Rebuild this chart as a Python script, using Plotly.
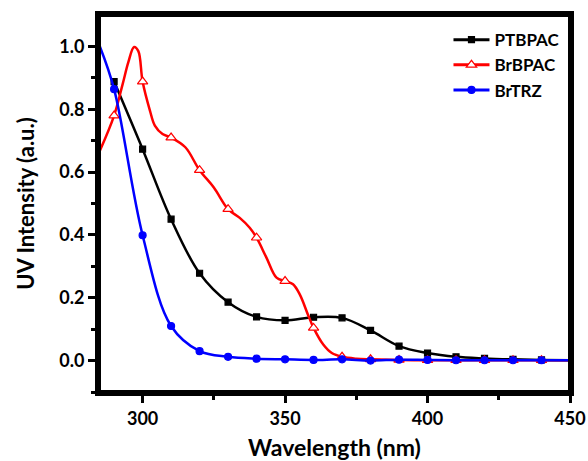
import plotly.graph_objects as go

# PTBPAC (black, squares)
ptb_x = [290, 300, 310, 320, 330, 340, 350, 360, 370, 380, 390, 400, 410, 420, 430, 440, 450]
ptb_y = [0.888, 0.673, 0.45, 0.278, 0.186, 0.139, 0.128, 0.138, 0.136, 0.096, 0.046, 0.024, 0.012, 0.007, 0.004, 0.002, 0.001]

# BrBPAC (red, open triangles) - line read densely, markers every 10 nm
brb_x = [285, 290, 293, 295, 297, 298.5, 300, 302.6, 304.3, 307, 310, 315, 320, 325, 330, 334, 337.6, 340, 343.5, 347, 350, 352.8, 355.2, 358, 360, 363.4, 366.4, 370, 375, 380, 390, 400, 410, 420, 430, 440, 450]
brb_y = [0.668, 0.78, 0.88, 0.95, 0.998, 0.985, 0.888, 0.795, 0.748, 0.721, 0.71, 0.679, 0.606, 0.551, 0.482, 0.455, 0.423, 0.391, 0.327, 0.264, 0.253, 0.243, 0.21, 0.147, 0.104, 0.051, 0.024, 0.012, 0.006, 0.004, 0.002, 0.001, 0.001, 0.001, 0.001, 0.001, 0.001]

# BrTRZ (blue, circles)
brt_x = [285, 290, 300, 310, 320, 330, 340, 350, 360, 370, 380, 390, 400, 410, 420, 430, 440, 450]
brt_y = [1.0, 0.864, 0.399, 0.11, 0.03, 0.012, 0.006, 0.004, 0.002, 0.004, 0.0, 0.003, 0.002, 0.001, 0.001, 0.001, 0.001, 0.001]

marker_x = [290, 300, 310, 320, 330, 340, 350, 360, 370, 380, 390, 400, 410, 420, 430, 440]

x_ticks = [300, 350, 400, 450]
y_ticks = [0.0, 0.2, 0.4, 0.6, 0.8, 1.0]
y_ticklabels = ["0.0", "0.2", "0.4", "0.6", "0.8", "1.0"]

series = [
    ("PTBPAC", ptb_x, ptb_y, "#000000", "square", "#000000", 6),
    ("BrBPAC", brb_x, brb_y, "#ff0000", "triangle-up", "#ffffff", 9),
    ("BrTRZ", brt_x, brt_y, "#0000ff", "circle", "#0000ff", 7),
]

fig = go.Figure()
for name, xs, ys, col, sym, fill, ms in series:
    mx = [x for x in xs if x in marker_x]
    my = [y for x, y in zip(xs, ys) if x in marker_x]
    fig.add_trace(go.Scatter(x=xs, y=ys, mode="lines", line=dict(color=col, width=2.5, shape="spline", smoothing=1.0),
                             showlegend=False, hoverinfo="skip", legendgroup=name))
    fig.add_trace(go.Scatter(x=mx, y=my, mode="markers",
                             marker=dict(symbol=sym, size=ms, color=fill, line=dict(color=col, width=1.2)),
                             showlegend=False, legendgroup=name))
    fig.add_trace(go.Scatter(x=[None], y=[None], mode="lines+markers", name=name, legendgroup=name,
                             line=dict(color=col, width=3),
                             marker=dict(symbol=sym, size=ms, color=fill, line=dict(color=col, width=1.2))))

# plot frame
fig.add_shape(type="rect", xref="paper", yref="paper", x0=0, y0=0, x1=1, y1=1,
              line=dict(color="black", width=4), fillcolor="rgba(0,0,0,0)", layer="above")

font_family = "Lato"
fig.update_layout(
    width=588, height=461,
    margin=dict(l=99, r=18, t=15, b=69),
    paper_bgcolor="white", plot_bgcolor="white",
    font=dict(family=font_family, color="black", size=18, weight="bold"),
    legend=dict(x=0.742, y=0.981, xanchor="left", yanchor="top", bgcolor="rgba(0,0,0,0)",
                font=dict(size=17, weight="bold"), tracegroupgap=0, itemwidth=36),
    xaxis=dict(range=[284.7, 450], tickvals=x_ticks, ticks="outside", ticklen=7, tickwidth=3, tickcolor="black",
               showline=True, linewidth=4, linecolor="black", mirror=True, showgrid=False, zeroline=False,
               automargin=False,
               tickfont=dict(size=18, weight="bold"),
               minor=dict(tickvals=[325, 375, 425], ticks="outside", ticklen=4, tickwidth=3, tickcolor="black"),
               title=dict(text="Wavelength (nm)", font=dict(size=23, weight="bold"), standoff=18)),
    yaxis=dict(range=[-0.1, 1.1], tickvals=y_ticks, ticktext=y_ticklabels,
               ticks="outside", ticklen=7, tickwidth=3, tickcolor="black",
               showline=True, linewidth=4, linecolor="black", mirror=True, showgrid=False, zeroline=False,
               automargin=False,
               tickfont=dict(size=18, weight="bold"),
               minor=dict(tickvals=[-0.1, 0.1, 0.3, 0.5, 0.7, 0.9], ticks="outside", ticklen=4, tickwidth=3, tickcolor="black"),
               title=dict(text="UV Intensity (a.u.)", font=dict(size=22, weight="bold"), standoff=20)),
)

fig.write_html("out.html")
